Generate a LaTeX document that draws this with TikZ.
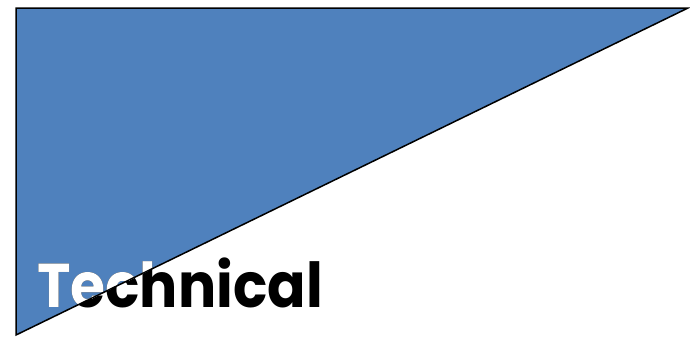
\documentclass[tikz,border=0pt]{standalone}
\usepackage{fontspec}
\setmainfont{Poppins}
\usetikzlibrary{positioning}
\definecolor{tblue}{HTML}{4F81BD}
\tikzset{
  wordnode/.style={inner sep=0pt, anchor=base west, xscale=0.915,
    font=\fontsize{62}{70}\selectfont\bfseries},
}
\begin{document}
\begin{tikzpicture}[x=1pt, y=-1pt]
  \useasboundingbox (0,0) rectangle (690,338);
  % corners of the wedge
  \coordinate (tl) at (16,8);
  \coordinate (tr) at (688,8);
  \coordinate (bl) at (16,335);

  \fill[tblue] (tl) -- (tr) -- (bl) -- cycle;
  \node[wordnode, text=black] (word) at (37,307) {Technical};
  \begin{scope}
    \clip (tl) -- (tr) -- (bl) -- cycle;
    \node[wordnode, text=white] (wordw) at (37,307) {Technical};
  \end{scope}
  \draw[line width=1.5pt, line join=miter] (tl) -- (tr) -- (bl) -- cycle;
\end{tikzpicture}
\end{document}
